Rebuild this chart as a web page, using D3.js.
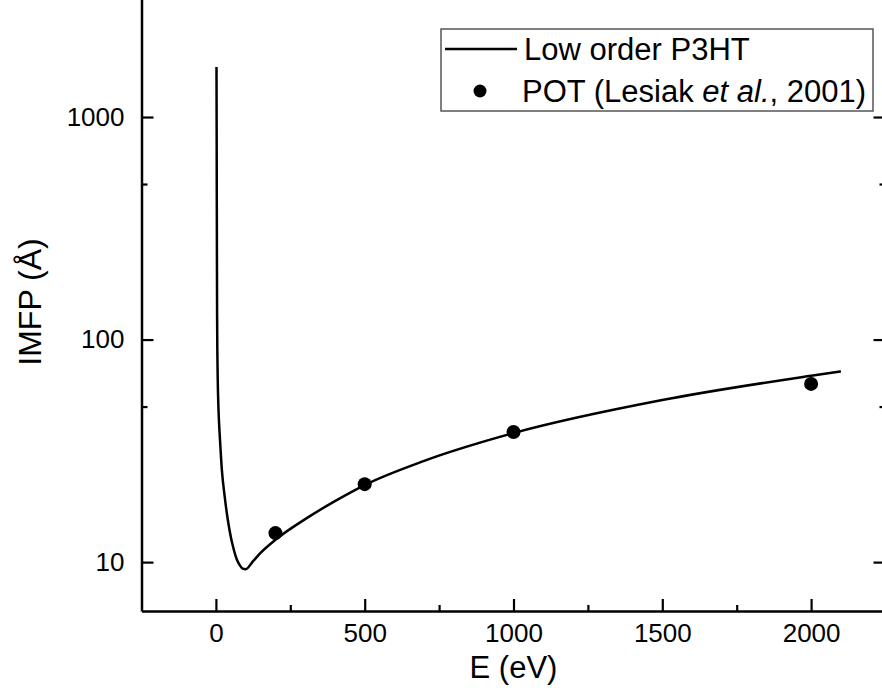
<!DOCTYPE html>
<html>
  <head>
    <meta charset="utf-8">
    <title>IMFP of P3HT</title>
    <script src="https://d3js.org/d3.v7.min.js"></script>
    <style>
      body { margin: 0; background: #fff; }
      svg { display: block; font-family: "Liberation Sans", Arial, sans-serif; }
    </style>
  </head>
  <body>
    <div id="chart"></div>
    <script>
      // calculated curve, low order P3HT (E in eV, IMFP in angstrom)
      const curveE = [2, 2.5, 3, 3.5, 4, 5, 6, 8, 10, 14, 20, 30, 40, 50, 60, 70, 80, 90, 100,
        125, 150, 200, 300, 400, 500, 700, 1000, 1500, 2000, 2100];
      const curveIMFP = [1680, 900, 420, 220, 130, 85, 68, 52, 44, 35, 26, 19.5, 15.5, 13.0, 11.4, 10.3, 9.7, 9.35, 9.3,
        10.1, 11.0, 12.6, 15.6, 18.8, 22.2, 28.5, 38.0, 53.5, 68.8, 72];
      // POT points (Lesiak et al., 2001)
      const dotE = [200, 500, 1000, 2000];
      const dotIMFP = [13.5, 22.4, 38.4, 63.2];
      // ticks
      const xTicks = [0, 500, 1000, 1500, 2000];
      const xMinor = [250, 750, 1250, 1750];
      const yTicks = [10, 100, 1000];
      const yMinor = [50, 500];

      const width = 882, height = 698;
      const left = 141.5, right = 885.5, bottom = 611;
      // 10 sits at y=562, one decade is 222.5 px
      const decade = 222.5;
      const yTop = 562 - decade * Math.log10(4000 / 10);

      const svg = d3.select("#chart").append("svg")
        .attr("width", width)
        .attr("height", height);

      const x = d3.scaleLinear().domain([-250, 2250]).range([left, right]);
      const y = d3.scaleLog().domain([6.03, 4000]).range([bottom, yTop]);

      // axes, ticks pointing inward
      function styleAxis(g) {
        g.select(".domain").attr("stroke", "#000").attr("stroke-width", 2.5);
        g.selectAll(".tick line").attr("stroke", "#000").attr("stroke-width", 2.2);
        g.selectAll(".tick text").attr("fill", "#000").style("font-size", "26px");
      }

      svg.append("g")
        .attr("transform", "translate(0," + bottom + ")")
        .call(d3.axisBottom(x).tickValues(xTicks).tickSize(-12).tickSizeOuter(0).tickPadding(13).tickFormat(d3.format("d")))
        .call(styleAxis);
      svg.append("g")
        .attr("transform", "translate(0," + bottom + ")")
        .call(d3.axisBottom(x).tickValues(xMinor).tickSize(-6).tickSizeOuter(0).tickFormat(""))
        .call(styleAxis)
        .select(".domain").remove();

      svg.append("g")
        .attr("transform", "translate(" + left + ",0)")
        .call(d3.axisLeft(y).tickValues(yTicks).tickSize(-12).tickSizeOuter(0).tickPadding(17).tickFormat(d3.format("d")))
        .call(styleAxis);
      svg.append("g")
        .attr("transform", "translate(" + left + ",0)")
        .call(d3.axisLeft(y).tickValues(yMinor).tickSize(-6).tickSizeOuter(0).tickFormat(""))
        .call(styleAxis)
        .select(".domain").remove();

      // mirrored right axis (mostly off the picture)
      svg.append("g")
        .attr("transform", "translate(" + right + ",0)")
        .call(d3.axisRight(y).tickValues(yTicks).tickSize(-12).tickSizeOuter(0).tickFormat(""))
        .call(styleAxis);
      svg.append("g")
        .attr("transform", "translate(" + right + ",0)")
        .call(d3.axisRight(y).tickValues(yMinor).tickSize(-6).tickSizeOuter(0).tickFormat(""))
        .call(styleAxis)
        .select(".domain").remove();

      // axis titles
      svg.append("text")
        .attr("x", x(1000))
        .attr("y", 678)
        .attr("text-anchor", "middle")
        .style("font-size", "31px")
        .text("E (eV)");
      svg.append("text")
        .attr("transform", "translate(41," + 302 + ") rotate(-90)")
        .attr("text-anchor", "middle")
        .style("font-size", "32px")
        .text("IMFP (Å)");

      // curve
      const curveData = curveE.map(function(e, i) { return { e: e, v: curveIMFP[i] }; });
      const line = d3.line()
        .x(function(d) { return x(d.e); })
        .y(function(d) { return y(d.v); })
        .curve(d3.curveMonotoneX);
      svg.append("path")
        .datum(curveData)
        .attr("fill", "none")
        .attr("stroke", "#000")
        .attr("stroke-width", 2.5)
        .attr("stroke-linejoin", "round")
        .attr("d", line);

      // points
      svg.selectAll(".dot")
        .data(dotE.map(function(e, i) { return { e: e, v: dotIMFP[i] }; }))
        .enter().append("circle")
          .attr("class", "dot")
          .attr("cx", function(d) { return x(d.e); })
          .attr("cy", function(d) { return y(d.v); })
          .attr("r", 7)
          .attr("fill", "#000");

      // legend
      const legend = svg.append("g");
      legend.append("rect")
        .attr("x", 441).attr("y", 29)
        .attr("width", 432).attr("height", 82)
        .attr("fill", "#fff")
        .attr("stroke", "#555")
        .attr("stroke-width", 1.5);
      legend.append("line")
        .attr("x1", 445).attr("x2", 517)
        .attr("y1", 49).attr("y2", 49)
        .attr("stroke", "#000")
        .attr("stroke-width", 2.5);
      legend.append("text")
        .attr("x", 524).attr("y", 60)
        .style("font-size", "31px")
        .text("Low order P3HT");
      legend.append("circle")
        .attr("cx", 480).attr("cy", 91)
        .attr("r", 6.5)
        .attr("fill", "#000");
      const t2 = legend.append("text")
        .attr("x", 522).attr("y", 102)
        .style("font-size", "31px");
      t2.append("tspan").text("POT (Lesiak ");
      t2.append("tspan").style("font-style", "italic").text("et al.");
      t2.append("tspan").text(", 2001)");
    </script>
  </body>
</html>
